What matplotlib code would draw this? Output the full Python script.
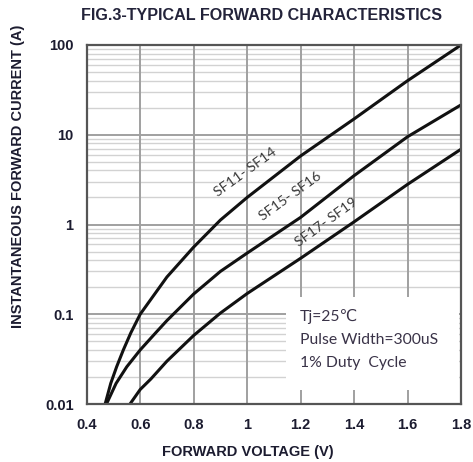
import matplotlib
matplotlib.use("Agg")
import matplotlib.pyplot as plt
from matplotlib.patches import Rectangle

# ---- data ----
v_sf11 = [0.469, 0.49, 0.512, 0.537, 0.565, 0.60, 0.70, 0.80, 0.90, 1.00, 1.20, 1.40, 1.60, 1.80]
i_sf11 = [0.01, 0.017, 0.026, 0.04, 0.062, 0.10, 0.26, 0.56, 1.12, 2.0, 5.8, 15.0, 40.0, 100.0]

v_sf15 = [0.474, 0.51, 0.55, 0.60, 0.662, 0.70, 0.80, 0.90, 1.00, 1.20, 1.40, 1.60, 1.80]
i_sf15 = [0.01, 0.017, 0.026, 0.04, 0.064, 0.085, 0.168, 0.30, 0.48, 1.2, 3.5, 9.5, 21.5]

v_sf17 = [0.562, 0.60, 0.64, 0.70, 0.80, 0.90, 1.00, 1.20, 1.40, 1.60, 1.80]
i_sf17 = [0.01, 0.0145, 0.019, 0.03, 0.058, 0.103, 0.17, 0.42, 1.07, 2.8, 6.9]

series_labels = ["SF11- SF14", "SF15- SF16", "SF17- SF19"]
x_ticks = [0.4, 0.6, 0.8, 1.0, 1.2, 1.4, 1.6, 1.8]
x_ticklabels = ["0.4", "0.6", "0.8", "1", "1.2", "1.4", "1.6", "1.8"]
y_ticks = [0.01, 0.1, 1, 10, 100]
y_ticklabels = ["0.01", "0.1", "1", "10", "100"]
note_lines = ["Tj=25\u2103", "Pulse Width=300uS", "1% Duty  Cycle"]

W, H = 473, 462
fig = plt.figure(figsize=(W / 100, H / 100), dpi=100)
L, R, T, B = 86.7, 461, 45, 404
ax = fig.add_axes([L / W, 1 - B / H, (R - L) / W, (B - T) / H])

ax.set_yscale("log")
ax.set_xlim(0.4, 1.8)
ax.set_ylim(0.01, 100)

# grid
for dec in [0.01, 0.1, 1, 10]:
    for m in range(2, 10):
        ax.axhline(dec * m, color="#d2d2d2", lw=1.0, zorder=1)
for y in y_ticks[1:-1]:
    ax.axhline(y, color="#a0a0a0", lw=1.4, zorder=1.5)
for x in x_ticks[1:-1]:
    ax.axvline(x, color="#a0a0a0", lw=1.4, zorder=1.5)


def px2data(px, py):
    xv = 0.4 + (px - L) / (R - L) * 1.4
    yv = 10 ** (-2 + (B - py) / ((B - T) / 4))
    return xv, yv


# white note box covering the grid
bx0, by_top = px2data(286, 297)
bx1, by_bot = px2data(459, 390)
ax.add_patch(Rectangle((bx0, by_bot), bx1 - bx0, by_top - by_bot,
                       facecolor="white", edgecolor="none", zorder=2))

lc = "#111111"
for v, i in [(v_sf11, i_sf11), (v_sf15, i_sf15), (v_sf17, i_sf17)]:
    ax.plot(v, i, color=lc, lw=2.2, zorder=3, solid_capstyle="round",
            solid_joinstyle="round")

lab_font = dict(family=["Lato", "DejaVu Sans"], fontsize=10.3, color="#3a3a3a",
                ha="center", va="center", rotation=36, rotation_mode="anchor", zorder=4)
for (px, py), s in zip([(245, 172), (290, 196), (326, 222)], series_labels):
    xv, yv = px2data(px, py)
    ax.text(xv, yv, s, **lab_font)

note_font = dict(family=["Lato", "DejaVu Sans"], fontsize=11.3, color="#3a3348",
                 ha="left", va="center", zorder=4)
for py, s in zip([317, 340, 363], note_lines):
    xv, yv = px2data(300, py)
    ax.text(xv, yv, s, **note_font)

for s in ax.spines.values():
    s.set_color("#555555")
    s.set_linewidth(1.6)
    s.set_zorder(5)

tick_col = "#1c1c30"
ax.set_xticks(x_ticks)
ax.set_xticklabels(x_ticklabels, fontfamily="Liberation Sans", fontweight="bold",
                   fontsize=10.5, color=tick_col)
ax.set_yticks(y_ticks)
ax.set_yticklabels(y_ticklabels, fontfamily="Liberation Sans", fontweight="bold",
                   fontsize=10.5, color=tick_col)
ax.minorticks_off()
ax.tick_params(axis="y", length=0, pad=9.5)
ax.tick_params(axis="x", length=0, pad=10)

fig.text(262 / W, 1 - 16 / H, "FIG.3-TYPICAL FORWARD CHARACTERISTICS",
         ha="center", va="center", fontfamily="Liberation Sans", fontweight="bold",
         fontsize=11.6, color="#23233a")
fig.text(248 / W, 1 - 452 / H, "FORWARD VOLTAGE (V)",
         ha="center", va="center", fontfamily="Liberation Sans", fontweight="bold",
         fontsize=10.5, color=tick_col)
fig.text(18 / W, 1 - 176 / H, "INSTANTANEOUS FORWARD CURRENT (A)",
         ha="center", va="center", rotation=90, fontfamily="Liberation Sans",
         fontweight="bold", fontsize=10.5, color=tick_col)

fig.savefig("out.png", dpi=100, facecolor="white")
